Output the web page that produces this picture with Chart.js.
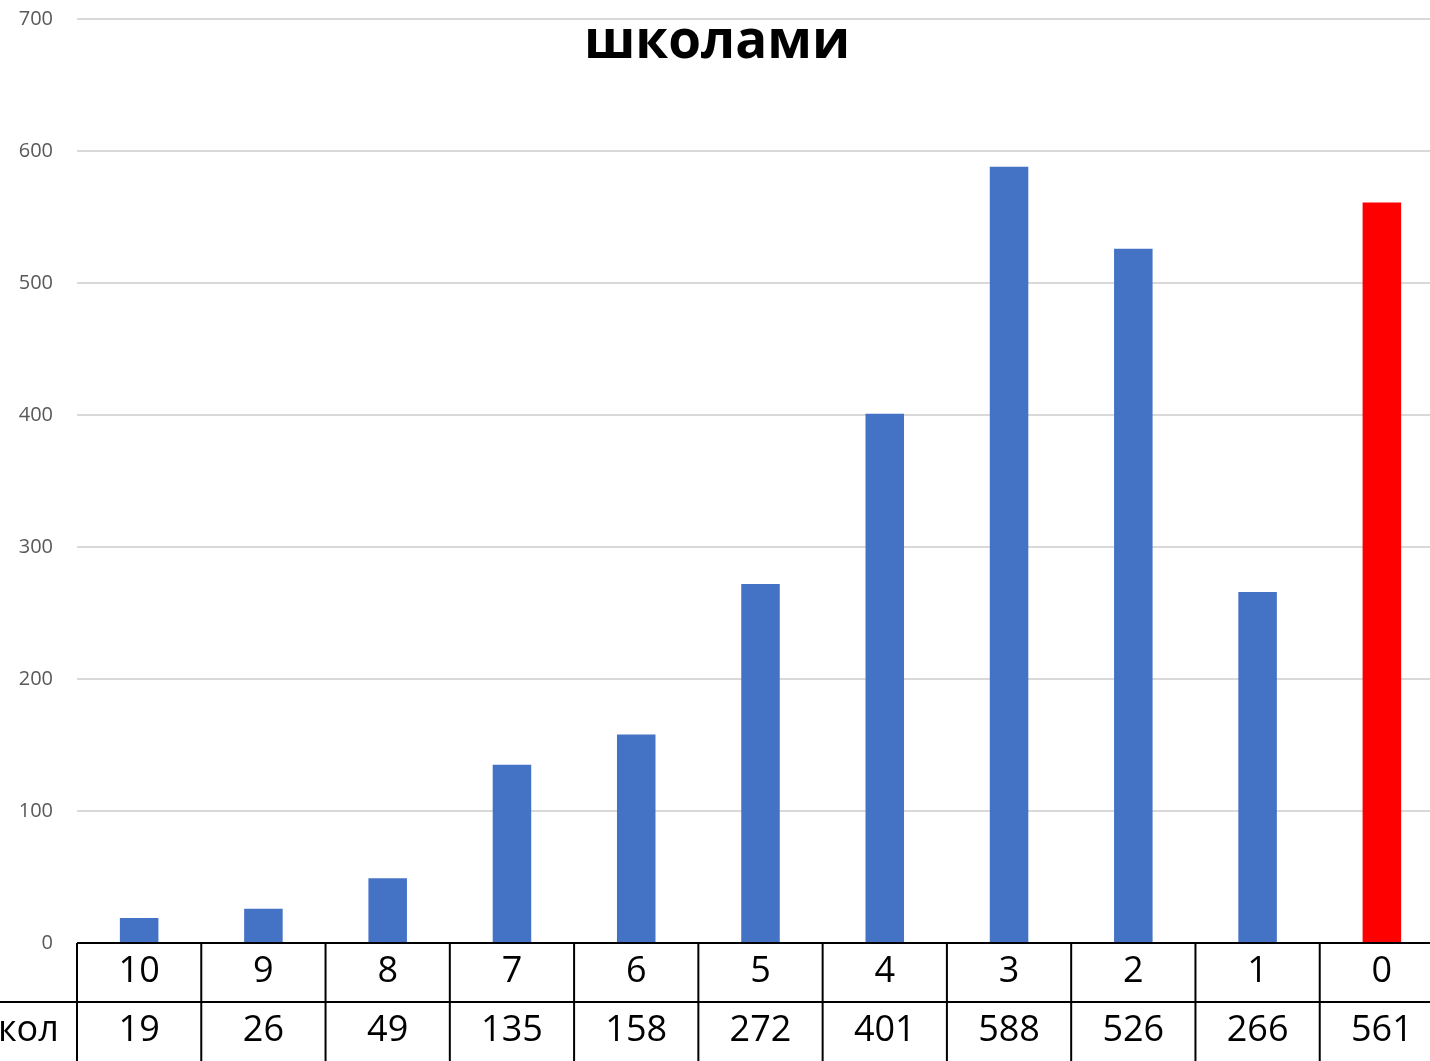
<!DOCTYPE html>
<html>
<head>
<meta charset="utf-8">
<script src="https://cdn.jsdelivr.net/npm/chart.js@4.4.0/dist/chart.umd.min.js"></script>
<style>
html,body{margin:0;padding:0;background:#fff;overflow:hidden;}
canvas{display:block;}
</style>
</head>
<body>
<canvas id="c" width="1450" height="1061"></canvas>
<script>
const categories = ["10","9","8","7","6","5","4","3","2","1","0"];
const counts = [19, 26, 49, 135, 158, 272, 401, 588, 526, 266, 561];
const yTicks = [0, 100, 200, 300, 400, 500, 600, 700];
const titleText = "школами";
const rowLabel = "кол";

const highlightIndex = categories.length - 1;
const FONT = "'Open Sans', 'Noto Sans', sans-serif";

const tablePlugin = {
  id: 'tablePlugin',
  afterDraw(chart) {
    const ctx = chart.ctx;
    const x = chart.scales.x;
    const ca = chart.chartArea;
    const top = ca.bottom;
    const mid = top + 59;
    const bottom = chart.height;
    const n = categories.length;
    const bounds = [ca.left];
    for (let i = 0; i < n - 1; i++) {
      bounds.push((x.getPixelForValue(i) + x.getPixelForValue(i + 1)) / 2);
    }
    bounds.push(ca.right);
    ctx.save();
    ctx.strokeStyle = '#000';
    ctx.lineWidth = 2;
    ctx.beginPath();
    ctx.moveTo(ca.left, top); ctx.lineTo(chart.width, top);
    ctx.moveTo(0, mid); ctx.lineTo(chart.width, mid);
    bounds.forEach(b => { ctx.moveTo(b, top); ctx.lineTo(b, bottom); });
    ctx.stroke();

    ctx.fillStyle = '#000';
    ctx.font = '36px ' + FONT;
    ctx.textAlign = 'center';
    ctx.textBaseline = 'middle';
    for (let i = 0; i < n; i++) {
      const cx = x.getPixelForValue(i);
      ctx.fillText(categories[i], cx, top + 29);
      ctx.fillText(String(counts[i]), cx, mid + 29);
    }
    ctx.textAlign = 'left';
    ctx.fillText(rowLabel, -2, mid + 29);

    // title
    ctx.font = 'bold 53px ' + FONT;
    ctx.textAlign = 'center';
    ctx.textBaseline = 'alphabetic';
    ctx.fillText(titleText, 717, 58);
    ctx.restore();
  }
};

new Chart(document.getElementById('c'), {
  type: 'bar',
  data: {
    labels: categories,
    datasets: [{
      data: counts,
      backgroundColor: ctx => ctx.dataIndex === highlightIndex ? '#FF0000' : '#4472C4',
      borderWidth: 0,
      barPercentage: 1,
      categoryPercentage: 0.31
    }]
  },
  options: {
    responsive: false,
    animation: false,
    layout: { autoPadding: false, padding: { top: 19, right: 6, bottom: 118, left: 0 } },
    plugins: { legend: { display: false }, tooltip: { enabled: false }, title: { display: false } },
    scales: {
      x: { display: false, offset: true },
      y: {
        min: 0, max: 700,
        afterFit(scale) { scale.width = 77; scale.paddingTop = 0; scale.paddingBottom = 0; },
        afterBuildTicks(scale) { scale.ticks = yTicks.map(v => ({ value: v })); },
        grid: { color: '#d9d9d9', lineWidth: 2, drawTicks: false },
        border: { display: false },
        ticks: { color: '#595959', font: { family: FONT, size: 20 }, padding: 24 }
      }
    }
  },
  plugins: [tablePlugin]
});
</script>
</body>
</html>
